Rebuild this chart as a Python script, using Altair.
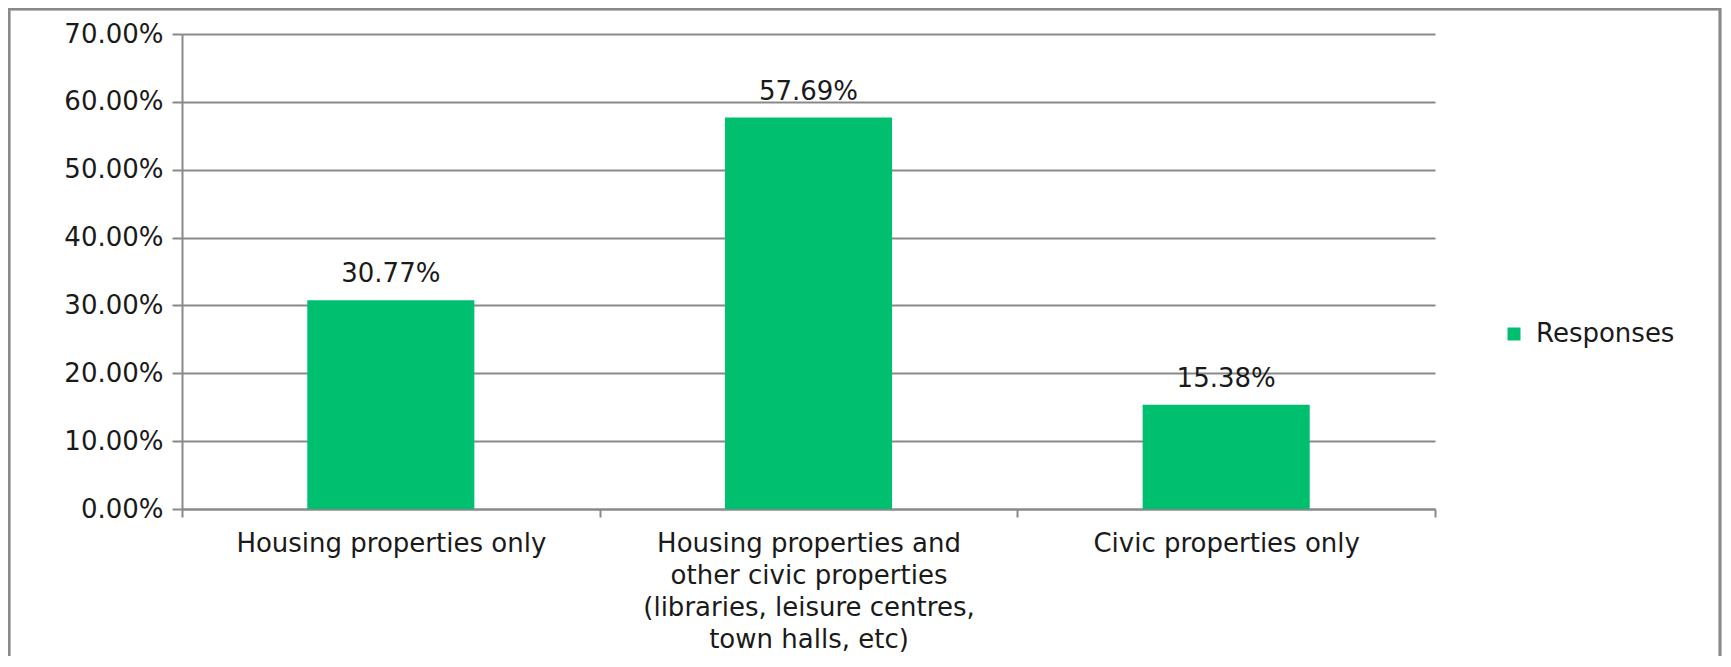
import altair as alt
import pandas as pd

categories = [
    "Housing properties only",
    "Housing properties and\nother civic properties\n(libraries, leisure centres,\ntown halls, etc)",
    "Civic properties only",
]
values = [0.3077, 0.5769, 0.1538]
series = ["Responses", "Responses", "Responses"]
y_ticks = [0.0, 0.1, 0.2, 0.3, 0.4, 0.5, 0.6, 0.7]

df = pd.DataFrame({"category": categories, "value": values, "series": series})

W, H = 1253, 475
PL, PT = 174, 26
SVG_W, SVG_H = 1714, 648
FONT = "DejaVu Sans"
FS = 26
GRAY = "#898989"
GREEN = "#00BF6F"
TEXT = "#1a1a1a"

x_enc = alt.X(
    "category:N",
    sort=categories,
    scale=alt.Scale(paddingInner=0, paddingOuter=0),
    axis=alt.Axis(
        title=None,
        labelAngle=0,
        labelExpr="split(datum.label, '\\n')",
        labelLimit=0,
        tickBand="extent",
        tickSize=8,
        tickColor=GRAY,
        tickWidth=2,
        domainColor=GRAY,
        domainWidth=2,
        labelFont=FONT,
        labelFontSize=FS,
        labelColor=TEXT,
        labelPadding=13,
        labelLineHeight=32,
        grid=False,
    ),
)
y_enc = alt.Y(
    "value:Q",
    scale=alt.Scale(domain=[0, 0.7], nice=False),
    axis=alt.Axis(
        title=None,
        values=y_ticks,
        format=".2%",
        tickSize=10,
        tickColor=GRAY,
        tickWidth=2,
        domainColor=GRAY,
        domainWidth=2,
        gridColor=GRAY,
        gridWidth=2,
        labelFont=FONT,
        labelFontSize=FS,
        labelColor=TEXT,
        labelPadding=9,
    ),
)

bars = alt.Chart(df).mark_bar(color=GREEN, width={"band": 0.4}).encode(
    x=x_enc,
    y=y_enc,
    color=alt.Color(
        "series:N",
        scale=alt.Scale(range=[GREEN]),
        legend=alt.Legend(
            title=None,
            orient="none",
            legendX=1319,
            legendY=287,
            symbolType="square",
            symbolSize=169,
            symbolStrokeWidth=0,
            symbolOpacity=1,
            labelFont=FONT,
            labelFontSize=FS,
            labelColor=TEXT,
            labelOffset=9,
            padding=0,
        ),
    ),
)

labels = alt.Chart(df).mark_text(
    baseline="middle", align="center", dy=-26, font=FONT, fontSize=FS, color=TEXT
).encode(
    x=alt.X("category:N", sort=categories),
    y=alt.Y("value:Q"),
    text=alt.Text("value:Q", format=".2%"),
)

frame = alt.Chart(df).mark_rect(
    fillOpacity=0, stroke=GRAY, strokeWidth=2.5, clip=False
).encode(
    x=alt.value(-PL + 1),
    x2=alt.value(SVG_W - PL - 2),
    y=alt.value(-PT + 1),
    y2=alt.value(SVG_H - PT + 30),
)

chart = (
    alt.layer(frame, bars, labels)
    .properties(
        width=W,
        height=H,
        autosize=alt.AutoSizeParams(type="none"),
        padding={"left": PL, "top": PT, "right": SVG_W - PL - W, "bottom": SVG_H - PT - H},
        background="white",
    )
    .configure_view(stroke=None)
)

chart.save("out.html", embed_options={"renderer": "svg", "actions": False})
